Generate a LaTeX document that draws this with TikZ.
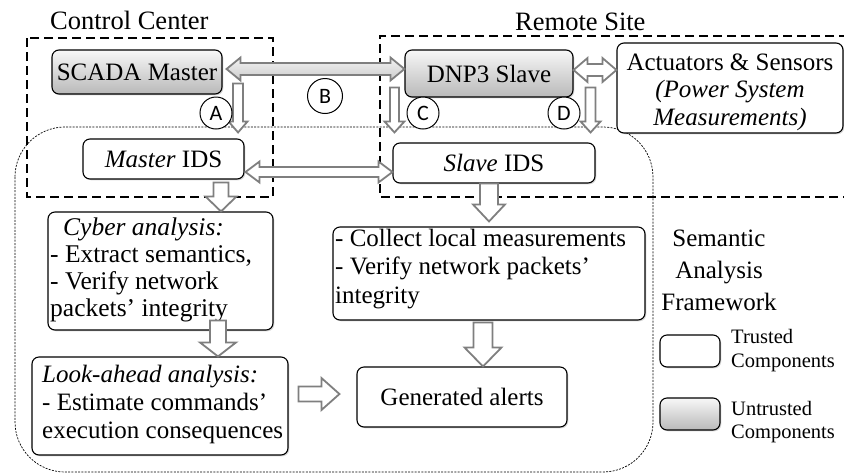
\documentclass[tikz,border=0pt]{standalone}
\usepackage{fontspec}
\setmainfont{Liberation Serif}
\newfontfamily\circfont{Carlito}
\usetikzlibrary{calc,shadows}
\definecolor{arrgray}{HTML}{7F7F7F}

\newcommand{\tl}[2]{\begin{tabular}[t]{@{}#1@{}}#2\end{tabular}}

\newcommand{\blkdown}[6]{%
  \draw[#1] let \p1=(#2), \p2=(#3) in
    (\x1-#4,\y1) -- (\x1-#4,\y2+#6) -- (\x1-#5,\y2+#6) -- (\x1,\y2)
    -- (\x1+#5,\y2+#6) -- (\x1+#4,\y2+#6) -- (\x1+#4,\y1) -- cycle;}
\newcommand{\blkright}[6]{%
  \draw[#1] let \p1=(#2), \p2=(#3) in
    (\x1,\y1+#4) -- (\x2-#6,\y1+#4) -- (\x2-#6,\y1+#5) -- (\x2,\y1)
    -- (\x2-#6,\y1-#5) -- (\x2-#6,\y1-#4) -- (\x1,\y1-#4) -- cycle;}
\newcommand{\blkboth}[6]{%
  \draw[#1] let \p1=(#2), \p2=(#3) in
    (\x1,\y1) -- (\x1+#6,\y1+#5) -- (\x1+#6,\y1+#4) -- (\x2-#6,\y1+#4)
    -- (\x2-#6,\y1+#5) -- (\x2,\y1) -- (\x2-#6,\y1-#5) -- (\x2-#6,\y1-#4)
    -- (\x1+#6,\y1-#4) -- (\x1+#6,\y1-#5) -- cycle;}

\begin{document}
\begin{tikzpicture}[x=1pt,y=-1pt,
  box/.style={draw=black,line width=1.1pt,rounded corners=7pt,fill=white,inner sep=0pt,
    drop shadow={shadow xshift=1.3pt,shadow yshift=-1.3pt,opacity=0.3}},
  graybox/.style={box,top color=gray!6,bottom color=gray!55},
  btext/.style={font=\fontsize{25}{28}\selectfont},
  txt/.style={inner sep=0pt,anchor=base west},
  barrow/.style={draw=arrgray,line width=1.8pt,fill=white,line join=miter},
  grayarrow/.style={barrow,top color=gray!10,bottom color=gray!40},
  circ/.style={circle,draw=black,line width=1pt,fill=white,inner sep=0pt,
    minimum size=32pt,font=\circfont\fontsize{22}{22}\selectfont},
  heavydash/.style={draw=black,line width=2pt,dash pattern=on 9pt off 5pt},
  dotframe/.style={draw=black,line width=0.7pt,dash pattern=on 2pt off 1.3pt,rounded corners=50pt}
]
\useasboundingbox (0,0) rectangle (844,475);
\clip (0,0) rectangle (844,475);

% frames
\draw[dotframe] (15,127) rectangle (653,472);
\draw[heavydash] (27,38) rectangle (273,197);
\draw[heavydash] (848,36) -- (380,36) -- (380,197) -- (848,197);

% headings
\node[txt,font=\fontsize{26.5}{28}\selectfont] (cc) at (50,29) {Control Center};
\node[txt,font=\fontsize{26.5}{28}\selectfont] (rs) at (515,30) {Remote Site};

% boxes
\node[graybox,minimum width=170pt,minimum height=44pt,btext] (scada) at (137,72) {SCADA Master};
\node[graybox,minimum width=168pt,minimum height=47pt,btext] (dnp) at (489,73.5) {DNP3 Slave};
\node[box,minimum width=226pt,minimum height=90pt] (act) at (730,88) {};
\node[box,minimum width=161pt,minimum height=40pt,btext] (mids) at (163.5,159) {\textit{Master} IDS};
\node[box,minimum width=202pt,minimum height=40pt,btext] (sids) at (494,163) {\textit{Slave} IDS};
\node[box,minimum width=225pt,minimum height=118pt] (cyber) at (160.5,271) {};
\node[box,minimum width=256pt,minimum height=98pt] (look) at (160,406) {};
\node[box,minimum width=312pt,minimum height=93pt] (coll) at (489,273.5) {};
\node[box,minimum width=210pt,minimum height=60pt,btext] (gen) at (462,397) {Generated alerts};
\node[box,minimum width=60pt,minimum height=32pt] (ltr) at (690,351) {};
\node[graybox,minimum width=60pt,minimum height=32pt] (lun) at (690,414) {};

% box texts
\node[txt,font=\fontsize{25}{27.5}\selectfont] (actt) at (730,70) [anchor=base]
  {\tl{c}{Actuators \& Sensors\\ \textit{(Power System}\\ \textit{Measurements)}}};
\node[txt,font=\fontsize{25.5}{27.3}\selectfont] (cybert) at (50,235)
  {\tl{l}{\hspace{13pt}\textit{Cyber analysis:}\\ - Extract semantics,\\ - Verify network\\ packets’ integrity}};
\node[txt,font=\fontsize{25}{28}\selectfont] (lookt) at (42,382)
  {\tl{l}{\textit{Look-ahead analysis:}\\ - Estimate commands’\\ execution consequences}};
\node[txt,font=\fontsize{25}{28.5}\selectfont] (collt) at (335,246)
  {\tl{l}{- Collect local measurements\\ - Verify network packets’\\ integrity}};
\node[txt,anchor=base,font=\fontsize{25}{32}\selectfont] (saf) at (719,246)
  {\tl{c}{Semantic\\ Analysis\\ Framework}};
\node[txt,font=\fontsize{20.5}{24}\selectfont] (trt) at (731,343) {\tl{l}{Trusted\\ Components}};
\node[txt,font=\fontsize{20.5}{23.5}\selectfont] (unt) at (731,415) {\tl{l}{Untrusted\\ Components}};

% arrows
\coordinate (bT) at ([xshift=4pt,yshift=3pt]scada.east);
\blkboth{grayarrow}{bT}{dnp.west}{6pt}{11.5pt}{14pt}
\coordinate (aT) at ([xshift=15.5pt,yshift=11pt]scada.south east);
\coordinate (aH) at ([yshift=6pt]mids.north);
\blkdown{barrow}{aT}{aH}{5pt}{9.5pt}{11pt}
\coordinate (cT) at ([xshift=-10pt,yshift=10pt]dnp.south west);
\coordinate (cH) at ([yshift=10pt]sids.north);
\blkdown{barrow}{cT}{cH}{4.5pt}{10pt}{11pt}
\coordinate (dT) at ([xshift=17pt,yshift=10pt]dnp.south east);
\blkdown{barrow}{dT}{cH}{5pt}{10pt}{11pt}
\coordinate (iT) at ([xshift=1pt,yshift=-13pt]mids.east);
\blkboth{barrow}{iT}{sids.west}{5pt}{10.5pt}{14pt}
\coordinate (eT) at ([yshift=3.5pt]dnp.east);
\blkboth{barrow}{eT}{act.west}{6pt}{12pt}{14pt}
\coordinate (mT) at ([xshift=57.5pt,yshift=-3pt]mids.south);
\blkdown{barrow}{mT}{cyber.north}{7.5pt}{15.5pt}{15pt}
\coordinate (sT) at ([xshift=-5pt]sids.south);
\coordinate (sH) at ([yshift=5pt]coll.north);
\blkdown{barrow}{sT}{sH}{9pt}{16pt}{17pt}
\coordinate (yT) at ([xshift=57.5pt,yshift=10pt]cyber.south);
\blkdown{barrow}{yT}{look.north}{8pt}{18pt}{14pt}
\coordinate (kT) at ([xshift=-6pt,yshift=-2pt]coll.south);
\blkdown{barrow}{kT}{gen.north}{9.5pt}{18.5pt}{19pt}
\coordinate (lT) at ([xshift=10pt,yshift=12pt]look.east);
\coordinate (lH) at ([xshift=-17pt]gen.west);
\blkright{barrow}{lT}{lH}{7.5pt}{16pt}{18pt}

% circle markers
\node[circ] (cA) at (216,113) {A};
\node[circ,minimum size=35pt] (cB) at (325,96) {B};
\node[circ] (cC) at (423,113) {C};
\node[circ] (cD) at (564,113) {D};
\end{tikzpicture}
\end{document}
